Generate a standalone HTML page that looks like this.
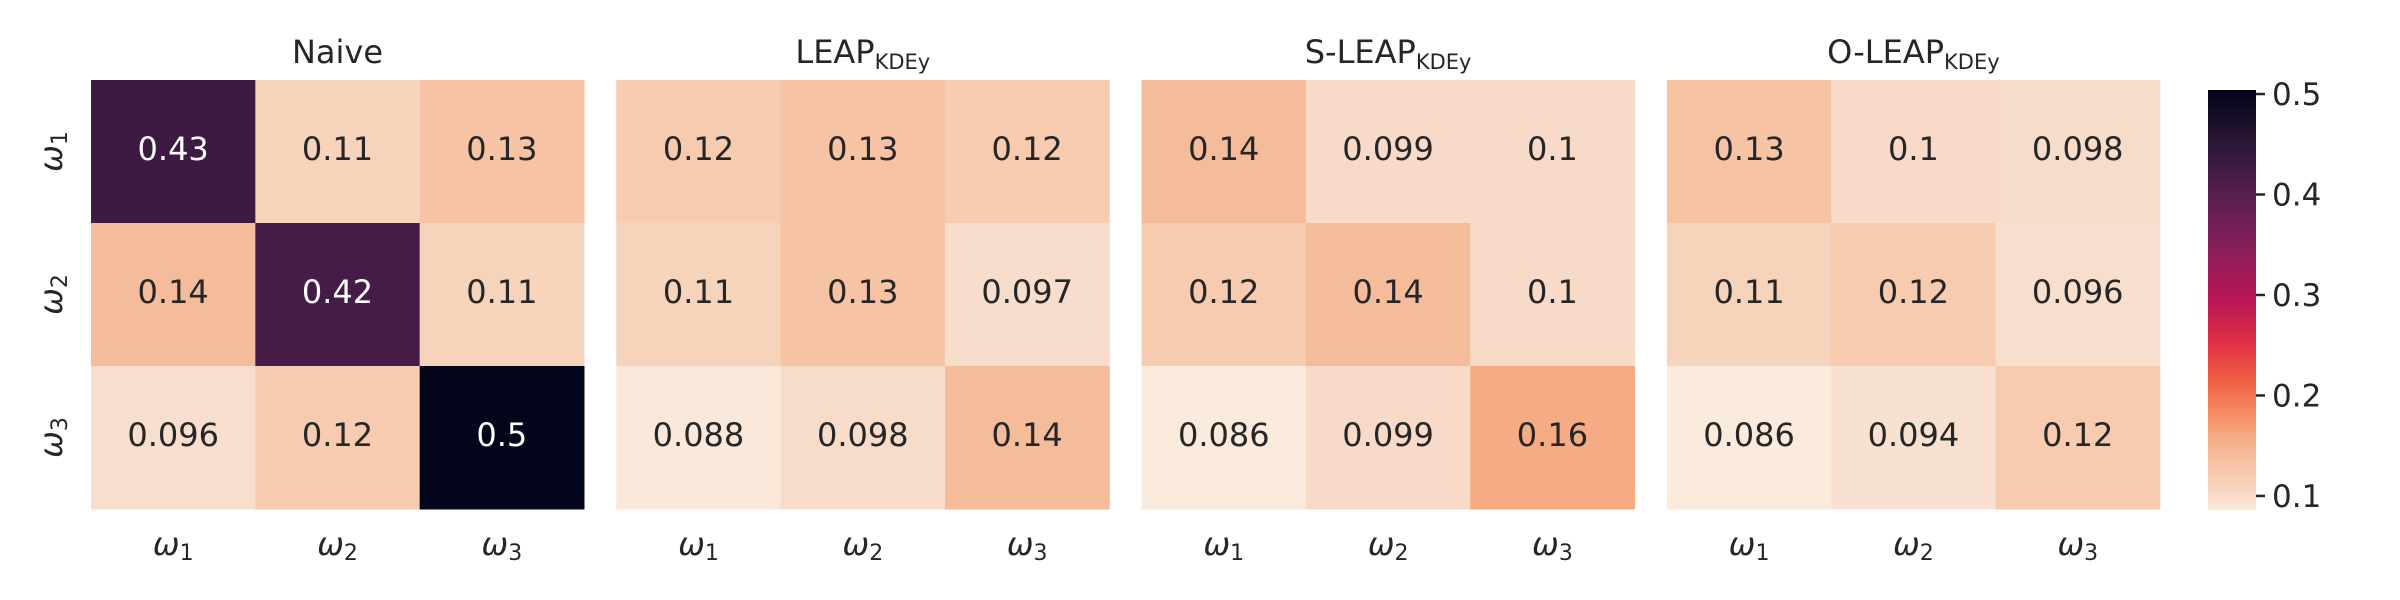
<!DOCTYPE html>
<html><head><meta charset="utf-8"><style>
html,body{margin:0;padding:0;background:#fff;}
svg{display:block;font-family:"DejaVu Sans","Liberation Sans",sans-serif;}
</style></head><body>
<svg id="chart" width="2400" height="600" viewBox="0 0 2400 600" xmlns="http://www.w3.org/2000/svg">
<defs><linearGradient id="cbgrad" x1="0" y1="1" x2="0" y2="0"></linearGradient></defs>
</svg>
<script>
const panelTitles = ["Naive", "LEAP", "S-LEAP", "O-LEAP"];
const panelSubs = ["", "KDEy", "KDEy", "KDEy"];
const rowLabels = ["1", "2", "3"];
const colLabels = ["1", "2", "3"];
const naiveValues = [[0.43, 0.11, 0.13], [0.14, 0.42, 0.11], [0.096, 0.12, 0.504]];
const naiveLabels = [["0.43","0.11","0.13"],["0.14","0.42","0.11"],["0.096","0.12","0.5"]];
const leapValues = [[0.12, 0.13, 0.12], [0.11, 0.13, 0.097], [0.088, 0.098, 0.14]];
const leapLabels = [["0.12","0.13","0.12"],["0.11","0.13","0.097"],["0.088","0.098","0.14"]];
const sleapValues = [[0.14, 0.099, 0.1], [0.12, 0.14, 0.1], [0.086, 0.099, 0.16]];
const sleapLabels = [["0.14","0.099","0.1"],["0.12","0.14","0.1"],["0.086","0.099","0.16"]];
const oleapValues = [[0.13, 0.1, 0.098], [0.11, 0.12, 0.096], [0.086, 0.094, 0.12]];
const oleapLabels = [["0.13","0.1","0.098"],["0.11","0.12","0.096"],["0.086","0.094","0.12"]];
const cbTicks = [0.1, 0.2, 0.3, 0.4, 0.5];
const cbTickLabels = ["0.1", "0.2", "0.3", "0.4", "0.5"];
const vmin = 0.086, vmax = 0.504;

const NS = "http://www.w3.org/2000/svg";
const svg = document.getElementById("chart");
const rocket = [[0,"#03051A"],[0.1,"#221331"],[0.2,"#451C47"],[0.3,"#6A1F56"],[0.4,"#921C5B"],[0.5,"#B91657"],[0.6,"#DE2E44"],[0.7,"#F16445"],[0.8,"#F59D74"],[0.821,"#F5AA83"],[0.87,"#F5BC9B"],[0.918,"#F6CBAF"],[0.969,"#F7DBC8"],[1,"#FAEBDD"]];
function hex(c){return [1,3,5].map(i=>parseInt(c.substr(i,2),16));}
function cmap(v){
  let t = 1 - Math.max(0, Math.min(1, (v - vmin) / (vmax - vmin)));
  for (let i = 1; i < rocket.length; i++) {
    if (t <= rocket[i][0]) {
      const a = rocket[i-1], b = rocket[i];
      const f = (t - a[0]) / (b[0] - a[0]);
      const ca = hex(a[1]), cb = hex(b[1]);
      return "rgb(" + ca.map((x,k)=>Math.round(x + (cb[k]-x)*f)).join(",") + ")";
    }
  }
  return rocket[rocket.length-1][1];
}
function mk(tag, attrs, parent){
  const e = document.createElementNS(NS, tag);
  for (const k in attrs) e.setAttribute(k, attrs[k]);
  (parent || svg).appendChild(e);
  return e;
}
const panelX0 = 91, panelPitch = 525.3, panelW = 493, plotTop = 80, plotBottom = 509;
const cellW = panelW / 3, cellH = (plotBottom - plotTop) / 3;
const xPos = (p, c) => panelX0 + p * panelPitch + c * cellW;
const yPos = r => plotTop + r * cellH;
const allValues = [naiveValues, leapValues, sleapValues, oleapValues];
const allLabels = [naiveLabels, leapLabels, sleapLabels, oleapLabels];

allValues.forEach((vals, p) => {
  const g = mk("g", {});
  
  
  const cx = xPos(p, 0) + panelW / 2;
  const t = mk("text", {x: cx, y: 63, "text-anchor": "middle", "font-size": 32, fill: "#262626"}, g);
  
  
  t.textContent = panelTitles[p];
  if (panelSubs[p]) {
    const s = mk("tspan", {"font-size": 21, dy: 6}, t);
    s.textContent = panelSubs[p];
  }
  vals.forEach((row, r) => row.forEach((v, c) => {
    const rect = mk("rect", {x: xPos(p, c), y: yPos(r), width: cellW + 0.5, height: cellH + 0.5, fill: cmap(v)}, g);
    
    
    const tx = mk("text", {x: xPos(p, c) + cellW / 2, y: yPos(r) + cellH / 2 + 8.5, "text-anchor": "middle", "font-size": 32, fill: v > 0.3 ? "#ffffff" : "#262626"}, g);
    
    
    tx.textContent = allLabels[p][r][c];
  }));
  colLabels.forEach((l, c) => {
    const tx = mk("text", {x: xPos(p, c) + cellW / 2, y: 555, "text-anchor": "middle", "font-size": 32, fill: "#262626"}, g);
    
    
    const w = mk("tspan", {"font-style": "italic"}, tx); w.textContent = "ω";
    const s = mk("tspan", {"font-size": 22, dy: 5}, tx); s.textContent = l;
  });
});
rowLabels.forEach((l, r) => {
  const y = yPos(r) + cellH / 2;
  const tx = mk("text", {x: 0, y: 0, transform: "translate(62," + y + ") rotate(-90)", "text-anchor": "middle", "font-size": 32, fill: "#262626"});
  
  
  const w = mk("tspan", {"font-style": "italic"}, tx); w.textContent = "ω";
  const s = mk("tspan", {"font-size": 22, dy: 5}, tx); s.textContent = l;
});
const grad = document.getElementById("cbgrad");
for (let i = 0; i <= 40; i++) {
  const v = vmin + (vmax - vmin) * i / 40;
  mk("stop", {offset: (i / 40), "stop-color": cmap(v)}, grad);
}
const cbX = 2208, cbW = 48, cbTop = 90, cbBot = 510;
const cbY = v => cbBot - (v - vmin) / (vmax - vmin) * (cbBot - cbTop);
const cb = mk("rect", {x: cbX, y: cbTop, width: cbW, height: cbBot - cbTop, fill: "url(#cbgrad)"});


cbTicks.forEach((v, i) => {
  const y = cbY(v);
  const ln = mk("line", {x1: cbX + cbW, x2: cbX + cbW + 9, y1: y, y2: y, stroke: "#262626", "stroke-width": 2.5});
  
  
  const tx = mk("text", {x: cbX + cbW + 16, y: y + 11, "font-size": 31, fill: "#262626"});
  
  
  tx.textContent = cbTickLabels[i];
});
</script>
</body></html>
